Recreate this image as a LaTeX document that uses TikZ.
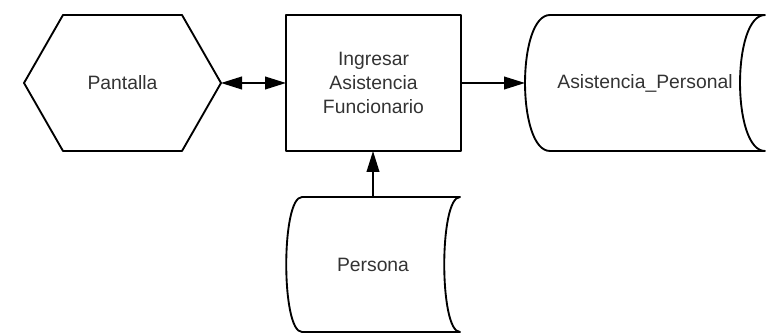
\documentclass[tikz,border=0pt]{standalone}
\usepackage{fontspec}
\setmainfont{Liberation Sans}
\usetikzlibrary{arrows.meta,calc}

\tikzset{
  outline/.style={draw=black, line width=1.4pt, line join=round},
  area/.style={inner sep=0pt, outer sep=0pt, align=center, text=black!80,
    font=\fontsize{14.5pt}{18.2pt}\selectfont},
  flow/.style={line width=1.4pt, -{Triangle[length=15.75pt,width=9.5pt]}},
  dflow/.style={line width=1.4pt,
    {Triangle[length=15.75pt,width=9.5pt]}-{Triangle[length=15.75pt,width=9.5pt]}},
}

\begin{document}
\begin{tikzpicture}[x=0.75pt, y=-0.75pt]
  \useasboundingbox (0,0) rectangle (767,334);

  % regions of the four shapes (pixel-like units, y downwards)
  \node[area, minimum width=147.75pt, minimum height=102pt] (pantalla) at (122.5,83) {Pantalla};
  \node[area, minimum width=131.25pt, minimum height=102pt] (proceso) at (373.5,83)
    {Ingresar\\Asistencia\\Funcionario};
  \node[area, minimum width=180pt, minimum height=102pt] (asist) at (645,83) {Asistencia\_Personal};
  \node[area, minimum width=130.5pt, minimum height=101.25pt] (persona) at (373,264.5) {Persona};

  % screen: hexagon
  \draw[outline] ($(pantalla.north west)+(39,0)$) -- ($(pantalla.north east)+(-39,0)$)
    -- (pantalla.east) -- ($(pantalla.south east)+(-39,0)$)
    -- ($(pantalla.south west)+(39,0)$) -- (pantalla.west) -- cycle;

  % process: rectangle
  \draw[outline] (proceso.north west) rectangle (proceso.south east);

  % stored data: Asistencia_Personal
  \draw[outline] ($(asist.north west)+(25,0)$) -- (asist.north east)
    .. controls ($(asist.north east)+(-33.3,0)$) and ($(asist.south east)+(-33.3,0)$) .. (asist.south east)
    -- ($(asist.south west)+(25,0)$)
    .. controls ($(asist.south west)+(-8.3,0)$) and ($(asist.north west)+(-8.3,0)$) .. cycle;

  % stored data: Persona
  \draw[outline] ($(persona.north west)+(16,0)$) -- (persona.north east)
    .. controls ($(persona.north east)+(-21,0)$) and ($(persona.south east)+(-21,0)$) .. (persona.south east)
    -- ($(persona.south west)+(16,0)$)
    .. controls ($(persona.south west)+(-5,0)$) and ($(persona.north west)+(-5,0)$) .. cycle;

  % connectors
  \draw[dflow] (pantalla.east) -- (proceso.west);
  \draw[flow] (proceso.east) -- (asist.west);
  \draw[flow] (persona.north) -- (proceso.south -| persona.north);
\end{tikzpicture}
\end{document}
